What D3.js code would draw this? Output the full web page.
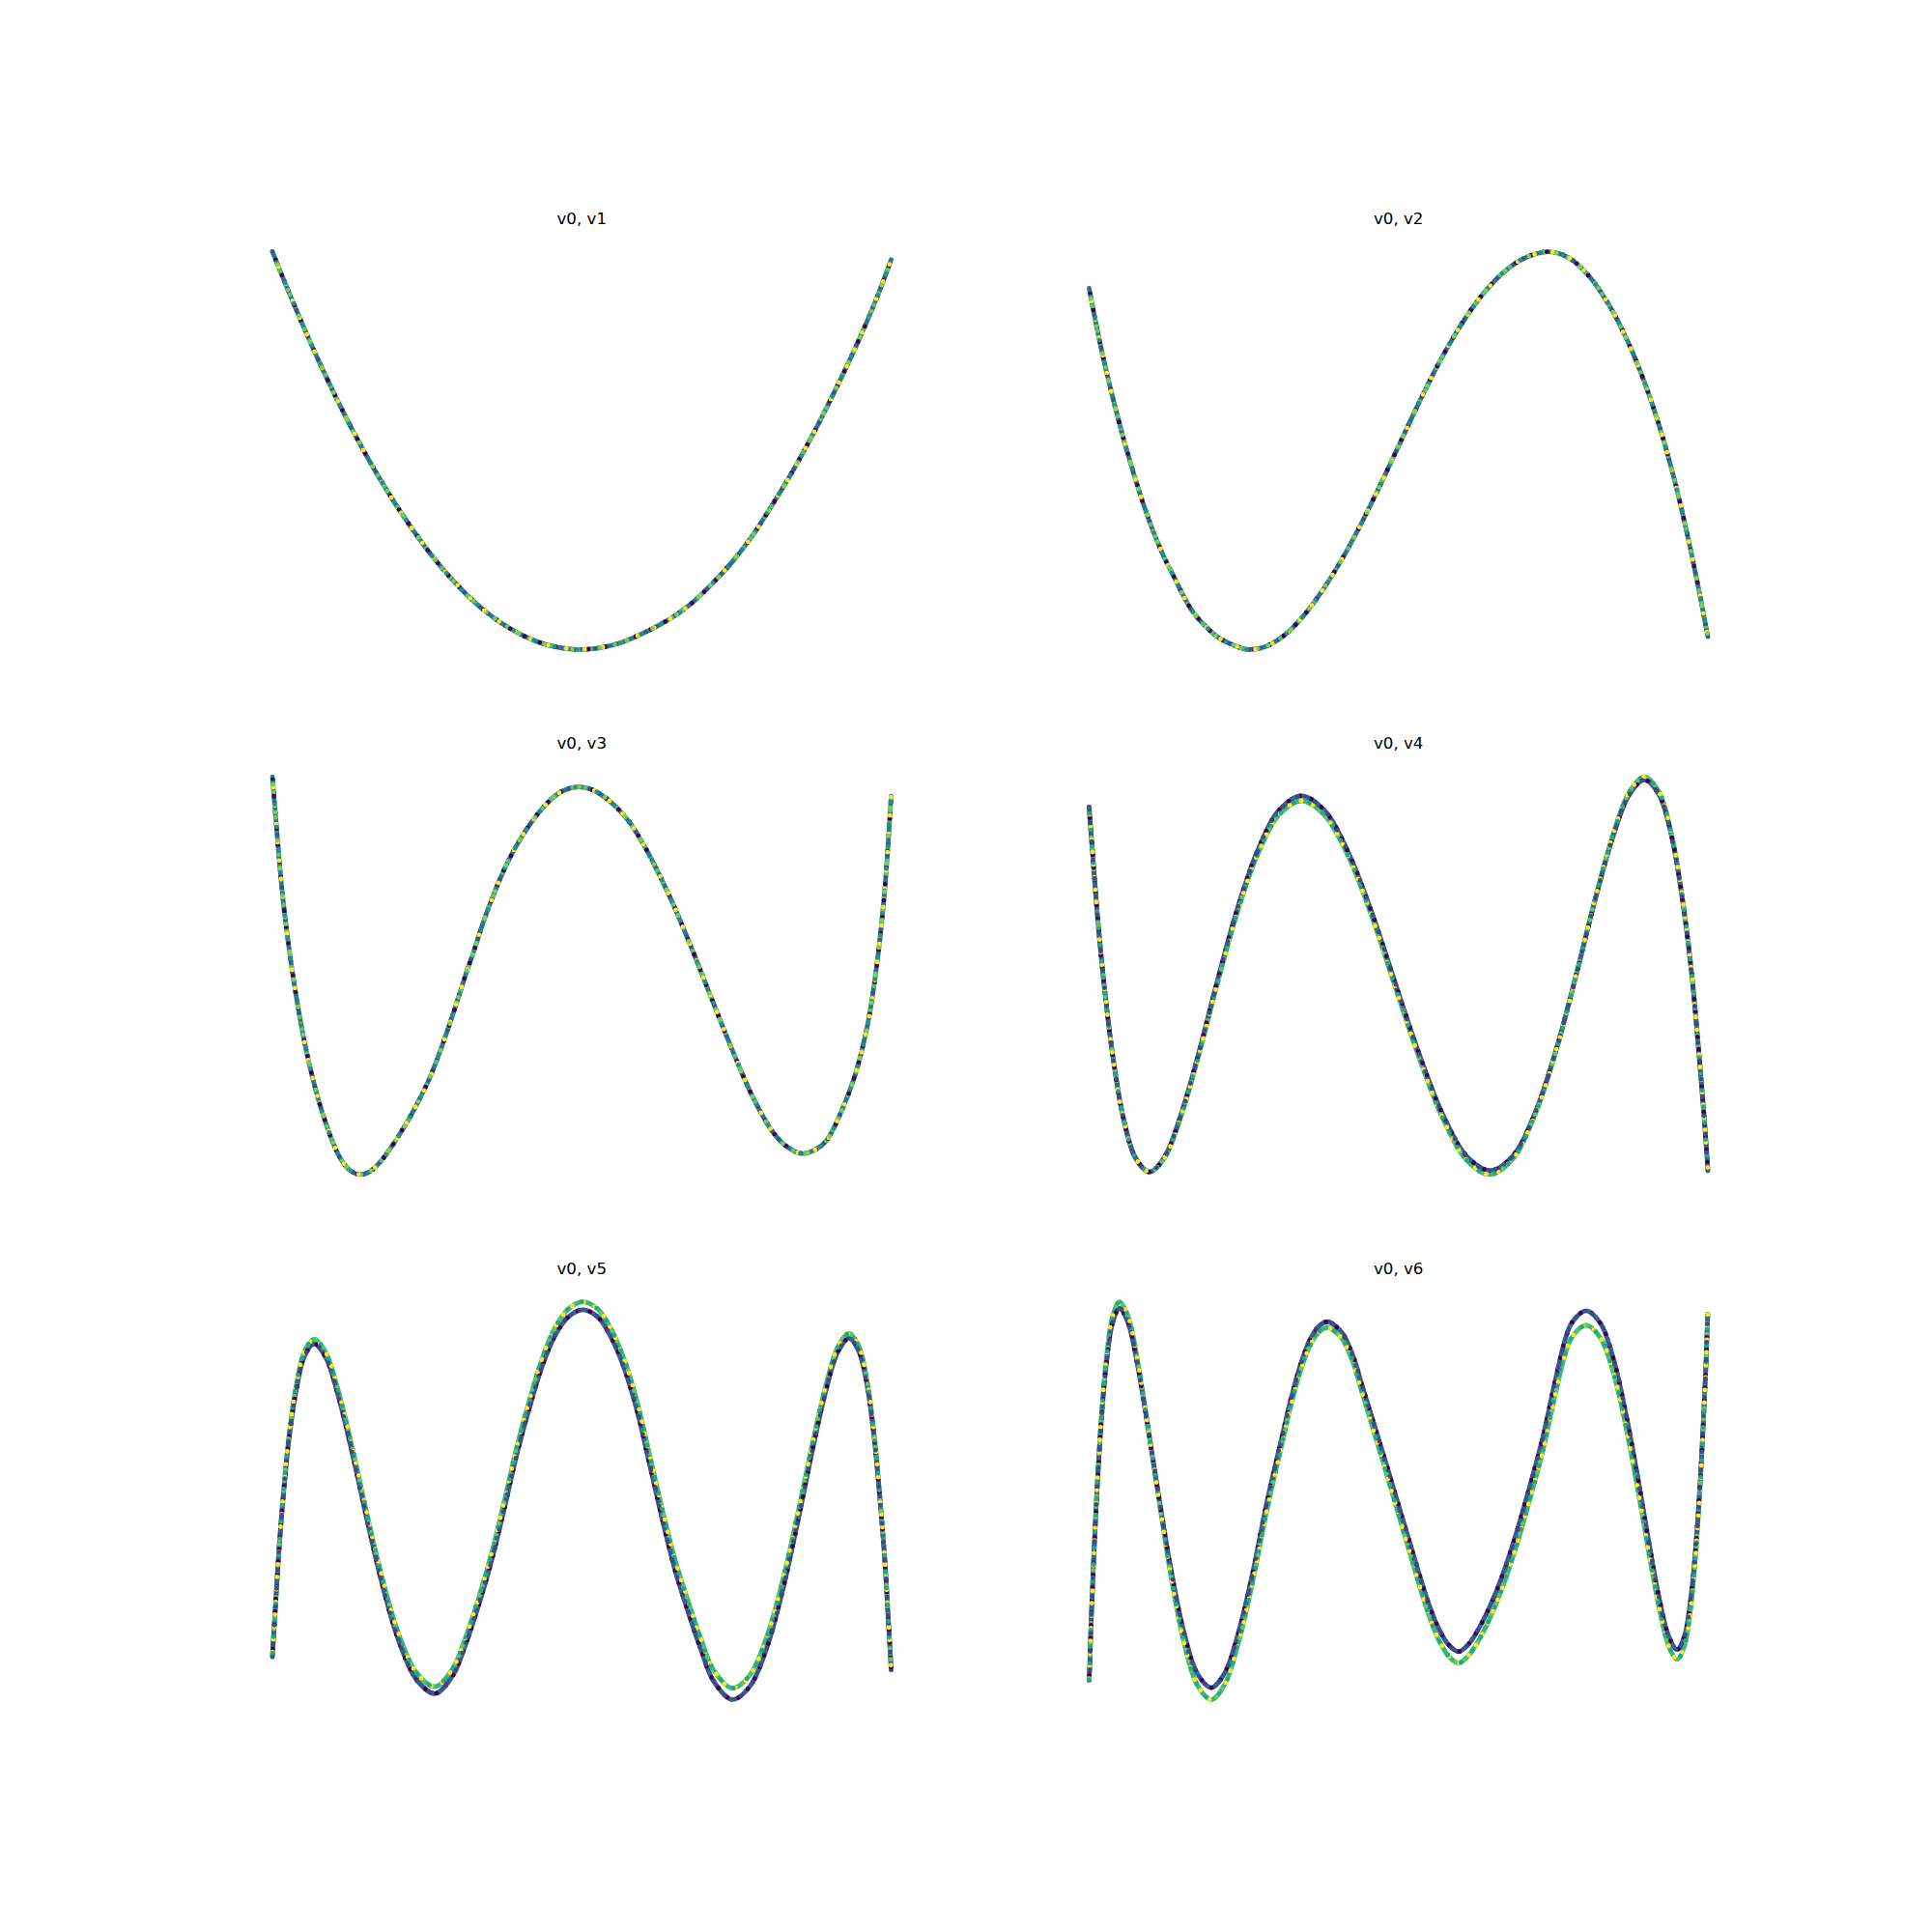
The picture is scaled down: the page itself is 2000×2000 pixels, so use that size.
<!DOCTYPE html>
<html>
<head>
<meta charset="utf-8">
<script src="https://cdn.jsdelivr.net/npm/d3@7"></script>
<style>
html, body { margin: 0; padding: 0; background: #ffffff; }
svg { display: block; }
</style>
</head>
<body>
<script>
// ---------------- data ----------------
const titles = ["v0, v1", "v0, v2", "v0, v3", "v0, v4", "v0, v5", "v0, v6"];

const v0_v1 = [-1.000, -0.958, -0.905, -0.838, -0.765, -0.706, -0.653, -0.600, -0.540, -0.480, -0.427, -0.374, -0.315, -0.242, -0.176, -0.109, -0.017, 0.063, 0.129, 0.209, 0.288, 0.355, 0.421, 0.487, 0.553, 0.620, 0.686, 0.752, 0.818, 0.885, 0.951, 1.000];
const v1 = [1.000, 0.838, 0.643, 0.409, 0.175, 0.002, -0.141, -0.274, -0.412, -0.537, -0.635, -0.721, -0.804, -0.885, -0.940, -0.978, -1.000, -0.990, -0.964, -0.910, -0.843, -0.768, -0.670, -0.558, -0.425, -0.262, -0.092, 0.096, 0.300, 0.520, 0.758, 0.960];

const v0_v2 = [-1.000, -0.983, -0.968, -0.952, -0.937, -0.916, -0.895, -0.874, -0.848, -0.822, -0.791, -0.759, -0.728, -0.697, -0.666, -0.624, -0.582, -0.541, -0.487, -0.431, -0.369, -0.306, -0.244, -0.181, -0.129, -0.077, -0.025, 0.027, 0.079, 0.131, 0.183, 0.235, 0.288, 0.340, 0.402, 0.483, 0.549, 0.616, 0.682, 0.735, 0.788, 0.841, 0.881, 0.920, 0.960, 1.000];
const v2 = [0.817, 0.679, 0.565, 0.451, 0.351, 0.219, 0.095, -0.021, -0.156, -0.281, -0.414, -0.532, -0.628, -0.725, -0.808, -0.883, -0.940, -0.973, -1.000, -0.986, -0.929, -0.829, -0.699, -0.541, -0.393, -0.231, -0.061, 0.112, 0.282, 0.441, 0.584, 0.709, 0.815, 0.897, 0.964, 1.000, 0.971, 0.877, 0.728, 0.569, 0.373, 0.134, -0.082, -0.328, -0.616, -0.936];

const v0_v3 = [-1.000, -0.994, -0.985, -0.977, -0.970, -0.959, -0.949, -0.938, -0.923, -0.907, -0.892, -0.871, -0.850, -0.829, -0.803, -0.777, -0.746, -0.715, -0.683, -0.652, -0.621, -0.590, -0.558, -0.527, -0.496, -0.465, -0.433, -0.402, -0.371, -0.350, -0.309, -0.242, -0.176, -0.110, -0.060, -0.010, 0.035, 0.076, 0.115, 0.155, 0.188, 0.222, 0.288, 0.354, 0.420, 0.487, 0.553, 0.619, 0.665, 0.712, 0.755, 0.791, 0.844, 0.884, 0.924, 0.950, 0.977, 1.000];
const v3 = [1.000, 0.883, 0.712, 0.564, 0.445, 0.291, 0.168, 0.045, -0.105, -0.247, -0.366, -0.509, -0.631, -0.735, -0.845, -0.928, -0.983, -1.000, -0.983, -0.938, -0.874, -0.800, -0.718, -0.628, -0.530, -0.410, -0.270, -0.125, 0.025, 0.118, 0.310, 0.563, 0.742, 0.871, 0.930, 0.949, 0.934, 0.895, 0.842, 0.770, 0.690, 0.596, 0.385, 0.142, -0.117, -0.376, -0.611, -0.789, -0.862, -0.894, -0.875, -0.829, -0.665, -0.497, -0.245, 0.010, 0.390, 0.903];

const v0_v4 = [-1.000, -0.997, -0.987, -0.972, -0.950, -0.922, -0.889, -0.850, -0.805, -0.757, -0.705, -0.648, -0.588, -0.524, -0.456, -0.386, -0.314, -0.240, -0.164, -0.087, -0.010, 0.068, 0.145, 0.221, 0.295, 0.369, 0.440, 0.509, 0.574, 0.635, 0.693, 0.746, 0.795, 0.842, 0.883, 0.918, 0.948, 0.970, 0.987, 0.997, 1.000];
const v4 = [0.847, 0.777, 0.579, 0.282, -0.068, -0.417, -0.714, -0.912, -0.982, -0.911, -0.708, -0.404, -0.046, 0.312, 0.616, 0.819, 0.890, 0.819, 0.615, 0.311, -0.048, -0.406, -0.710, -0.914, -0.985, -0.910, -0.696, -0.375, 0.003, 0.380, 0.701, 0.915, 0.990, 0.915, 0.702, 0.383, 0.008, -0.368, -0.687, -0.900, -0.975];
// spread between light-coloured and dark-coloured points (light minus dark)
const v4_split = [0, 0, 0, 0, 0, 0, 0, 0, 0, -0.005, -0.010, -0.012, -0.015, -0.018, -0.020, -0.023, -0.025, -0.023, -0.020, -0.020, -0.020, -0.020, -0.020, -0.020, -0.020, -0.015, -0.010, -0.005, 0, 0.005, 0.010, 0.014, 0.016, 0.014, 0.010, 0.007, 0.005, 0.002, 0, 0, 0];

const v0_v5 = [-1.000, -0.998, -0.991, -0.981, -0.966, -0.947, -0.923, -0.896, -0.865, -0.828, -0.788, -0.743, -0.695, -0.644, -0.590, -0.533, -0.474, -0.417, -0.376, -0.334, -0.293, -0.251, -0.209, -0.168, -0.126, -0.084, -0.043, 0.003, 0.051, 0.093, 0.134, 0.176, 0.218, 0.259, 0.301, 0.343, 0.384, 0.426, 0.487, 0.544, 0.599, 0.651, 0.700, 0.746, 0.789, 0.828, 0.864, 0.895, 0.923, 0.946, 0.965, 0.981, 0.991, 0.998, 1.000];
const v5 = [-0.786, -0.726, -0.554, -0.298, 0.005, 0.308, 0.564, 0.736, 0.796, 0.729, 0.540, 0.256, -0.079, -0.413, -0.697, -0.886, -0.953, -0.862, -0.708, -0.512, -0.293, -0.028, 0.255, 0.489, 0.700, 0.853, 0.940, 0.975, 0.940, 0.843, 0.697, 0.487, 0.212, -0.064, -0.323, -0.530, -0.718, -0.880, -0.972, -0.904, -0.709, -0.417, -0.074, 0.270, 0.562, 0.757, 0.825, 0.761, 0.580, 0.308, -0.013, -0.334, -0.606, -0.787, -0.851];
const v5_split = [0, 0, 0, 0.006, 0.012, 0.018, 0.024, 0.024, 0.024, 0.025, 0.027, 0.029, 0.030, 0.032, 0.034, 0.035, 0.035, 0.035, 0.036, 0.036, 0.037, 0.037, 0.038, 0.038, 0.039, 0.039, 0.040, 0.040, 0.040, 0.042, 0.044, 0.046, 0.048, 0.050, 0.052, 0.054, 0.055, 0.056, 0.057, 0.057, 0.055, 0.050, 0.041, 0.033, 0.027, 0.025, 0.025, 0.025, 0.022, 0.018, 0.012, 0.006, 0, 0, 0];

const v0_v6 = [-1.000, -0.998, -0.994, -0.986, -0.975, -0.961, -0.944, -0.924, -0.902, -0.874, -0.844, -0.811, -0.774, -0.735, -0.694, -0.651, -0.605, -0.563, -0.519, -0.473, -0.426, -0.369, -0.348, -0.317, -0.285, -0.254, -0.228, -0.205, -0.181, -0.160, -0.140, -0.119, -0.098, -0.077, -0.056, -0.035, -0.015, 0.006, 0.027, 0.048, 0.069, 0.090, 0.110, 0.131, 0.163, 0.194, 0.225, 0.256, 0.298, 0.340, 0.381, 0.423, 0.465, 0.506, 0.538, 0.561, 0.607, 0.653, 0.696, 0.736, 0.775, 0.811, 0.844, 0.874, 0.901, 0.924, 0.944, 0.961, 0.975, 0.986, 0.994, 0.998, 1.000];
const v6 = [-0.900, -0.828, -0.624, -0.318, 0.042, 0.402, 0.708, 0.912, 0.984, 0.910, 0.698, 0.382, 0.009, -0.365, -0.681, -0.893, -0.967, -0.896, -0.696, -0.395, -0.030, 0.355, 0.494, 0.668, 0.798, 0.868, 0.885, 0.865, 0.827, 0.762, 0.681, 0.568, 0.462, 0.355, 0.248, 0.140, 0.035, -0.075, -0.185, -0.295, -0.405, -0.508, -0.596, -0.672, -0.752, -0.785, -0.750, -0.679, -0.550, -0.387, -0.193, 0.033, 0.276, 0.565, 0.770, 0.860, 0.919, 0.855, 0.672, 0.398, 0.075, -0.249, -0.523, -0.706, -0.770, -0.705, -0.520, -0.243, 0.084, 0.411, 0.688, 0.873, 0.938];
const v6_split = [0, 0, 0, 0.006, 0.012, 0.020, 0.028, 0.032, 0.032, 0.032, 0.025, 0.005, -0.014, -0.035, -0.050, -0.058, -0.060, -0.058, -0.052, -0.045, -0.040, -0.035, -0.032, -0.030, -0.030, -0.030, -0.030, -0.030, -0.030, -0.032, -0.034, -0.036, -0.038, -0.040, -0.042, -0.044, -0.046, -0.048, -0.050, -0.052, -0.054, -0.055, -0.056, -0.057, -0.057, -0.057, -0.057, -0.058, -0.060, -0.062, -0.064, -0.066, -0.068, -0.070, -0.072, -0.073, -0.073, -0.073, -0.070, -0.066, -0.061, -0.055, -0.049, -0.049, -0.049, -0.049, -0.045, -0.035, -0.025, -0.015, -0.006, 0, 0];

const panels = [
  { title: titles[0], x: v0_v1, y: v1, split: null },
  { title: titles[1], x: v0_v2, y: v2, split: null },
  { title: titles[2], x: v0_v3, y: v3, split: null },
  { title: titles[3], x: v0_v4, y: v4, split: v4_split },
  { title: titles[4], x: v0_v5, y: v5, split: v5_split },
  { title: titles[5], x: v0_v6, y: v6, split: v6_split }
];

// ---------------- layout (matplotlib-like subplot grid) ----------------
const W = 2000, H = 2000;
const L = 250, R = 1800, T = 240, B = 1780;
const ncols = 2, nrows = 3, wspace = 0.2, hspace = 0.2;
const aw = (R - L) / (ncols + (ncols - 1) * wspace);
const ah = (B - T) / (nrows + (nrows - 1) * hspace);

const svg = d3.select("body").append("svg")
  .attr("width", W).attr("height", H)
  .attr("viewBox", `0 0 ${W} ${H}`);
svg.append("rect").attr("width", W).attr("height", H).attr("fill", "#ffffff");

const SW = 4.8;
// dot layers imitate scattered points coloured with viridis
const singleBase = "#2a788e";
const singleDots = [
  { c: "#3b528b", p: 11, o: 0 },
  { c: "#5ec962", p: 13, o: 4 },
  { c: "#440154", p: 17, o: 8 },
  { c: "#fde725", p: 19, o: 2 },
  { c: "#21918c", p: 23, o: 11 },
  { c: "#7ad151", p: 29, o: 15 }
];
const darkBase = "#3b528b", lightBase = "#35b779";
const bandDots = [
  { band: "dark", c: "#31688e", p: 9, o: 0 },
  { band: "light", c: "#5ec962", p: 11, o: 3 },
  { band: "dark", c: "#440154", p: 13, o: 6 },
  { band: "light", c: "#fde725", p: 13, o: 9 },
  { band: "light", c: "#22a884", p: 17, o: 1 },
  { band: "dark", c: "#3e4989", p: 19, o: 12 }
];

panels.forEach((p, i) => {
  const row = Math.floor(i / ncols), col = i % ncols;
  const x0 = L + col * aw * (1 + wspace);
  const y0 = T + row * ah * (1 + hspace);

  const dark = p.y.map((v, j) => v - (p.split ? p.split[j] / 2 : 0));
  const light = p.y.map((v, j) => v + (p.split ? p.split[j] / 2 : 0));

  const xe = d3.extent(p.x);
  const ye = d3.extent(dark.concat(light));
  const xpad = (xe[1] - xe[0]) * 0.05, ypad = (ye[1] - ye[0]) * 0.05;
  const xs = d3.scaleLinear().domain([xe[0] - xpad, xe[1] + xpad]).range([x0, x0 + aw]);
  const ys = d3.scaleLinear().domain([ye[0] - ypad, ye[1] + ypad]).range([y0 + ah, y0]);

  const g = svg.append("g");

  g.append("text")
    .attr("x", x0 + aw / 2)
    .attr("y", y0 - 8.33)
    .attr("text-anchor", "middle")
    .attr("font-family", "DejaVu Sans, sans-serif")
    .attr("font-size", "16.67px")
    .attr("fill", "#000000")
    .text(p.title);

  const lineGen = d3.line()
    .x((d, j) => xs(p.x[j]))
    .y(d => ys(d))
    .curve(d3.curveCatmullRom.alpha(0.5));

  const base = (d, c) => g.append("path")
    .attr("d", d).attr("fill", "none").attr("stroke", c)
    .attr("stroke-width", SW).attr("stroke-linecap", "round").attr("stroke-linejoin", "round");
  const dots = (d, s) => g.append("path")
    .attr("d", d).attr("fill", "none").attr("stroke", s.c)
    .attr("stroke-width", SW).attr("stroke-linecap", "round")
    .attr("stroke-dasharray", `0 ${s.p}`).attr("stroke-dashoffset", s.o + 3 * i);

  if (!p.split) {
    const d = lineGen(p.y);
    base(d, singleBase);
    singleDots.forEach(s => dots(d, s));
  } else {
    const dL = lineGen(light), dD = lineGen(dark);
    base(dL, lightBase);
    base(dD, darkBase);
    bandDots.forEach(s => dots(s.band === "dark" ? dD : dL, s));
  }
});
</script>
</body>
</html>
